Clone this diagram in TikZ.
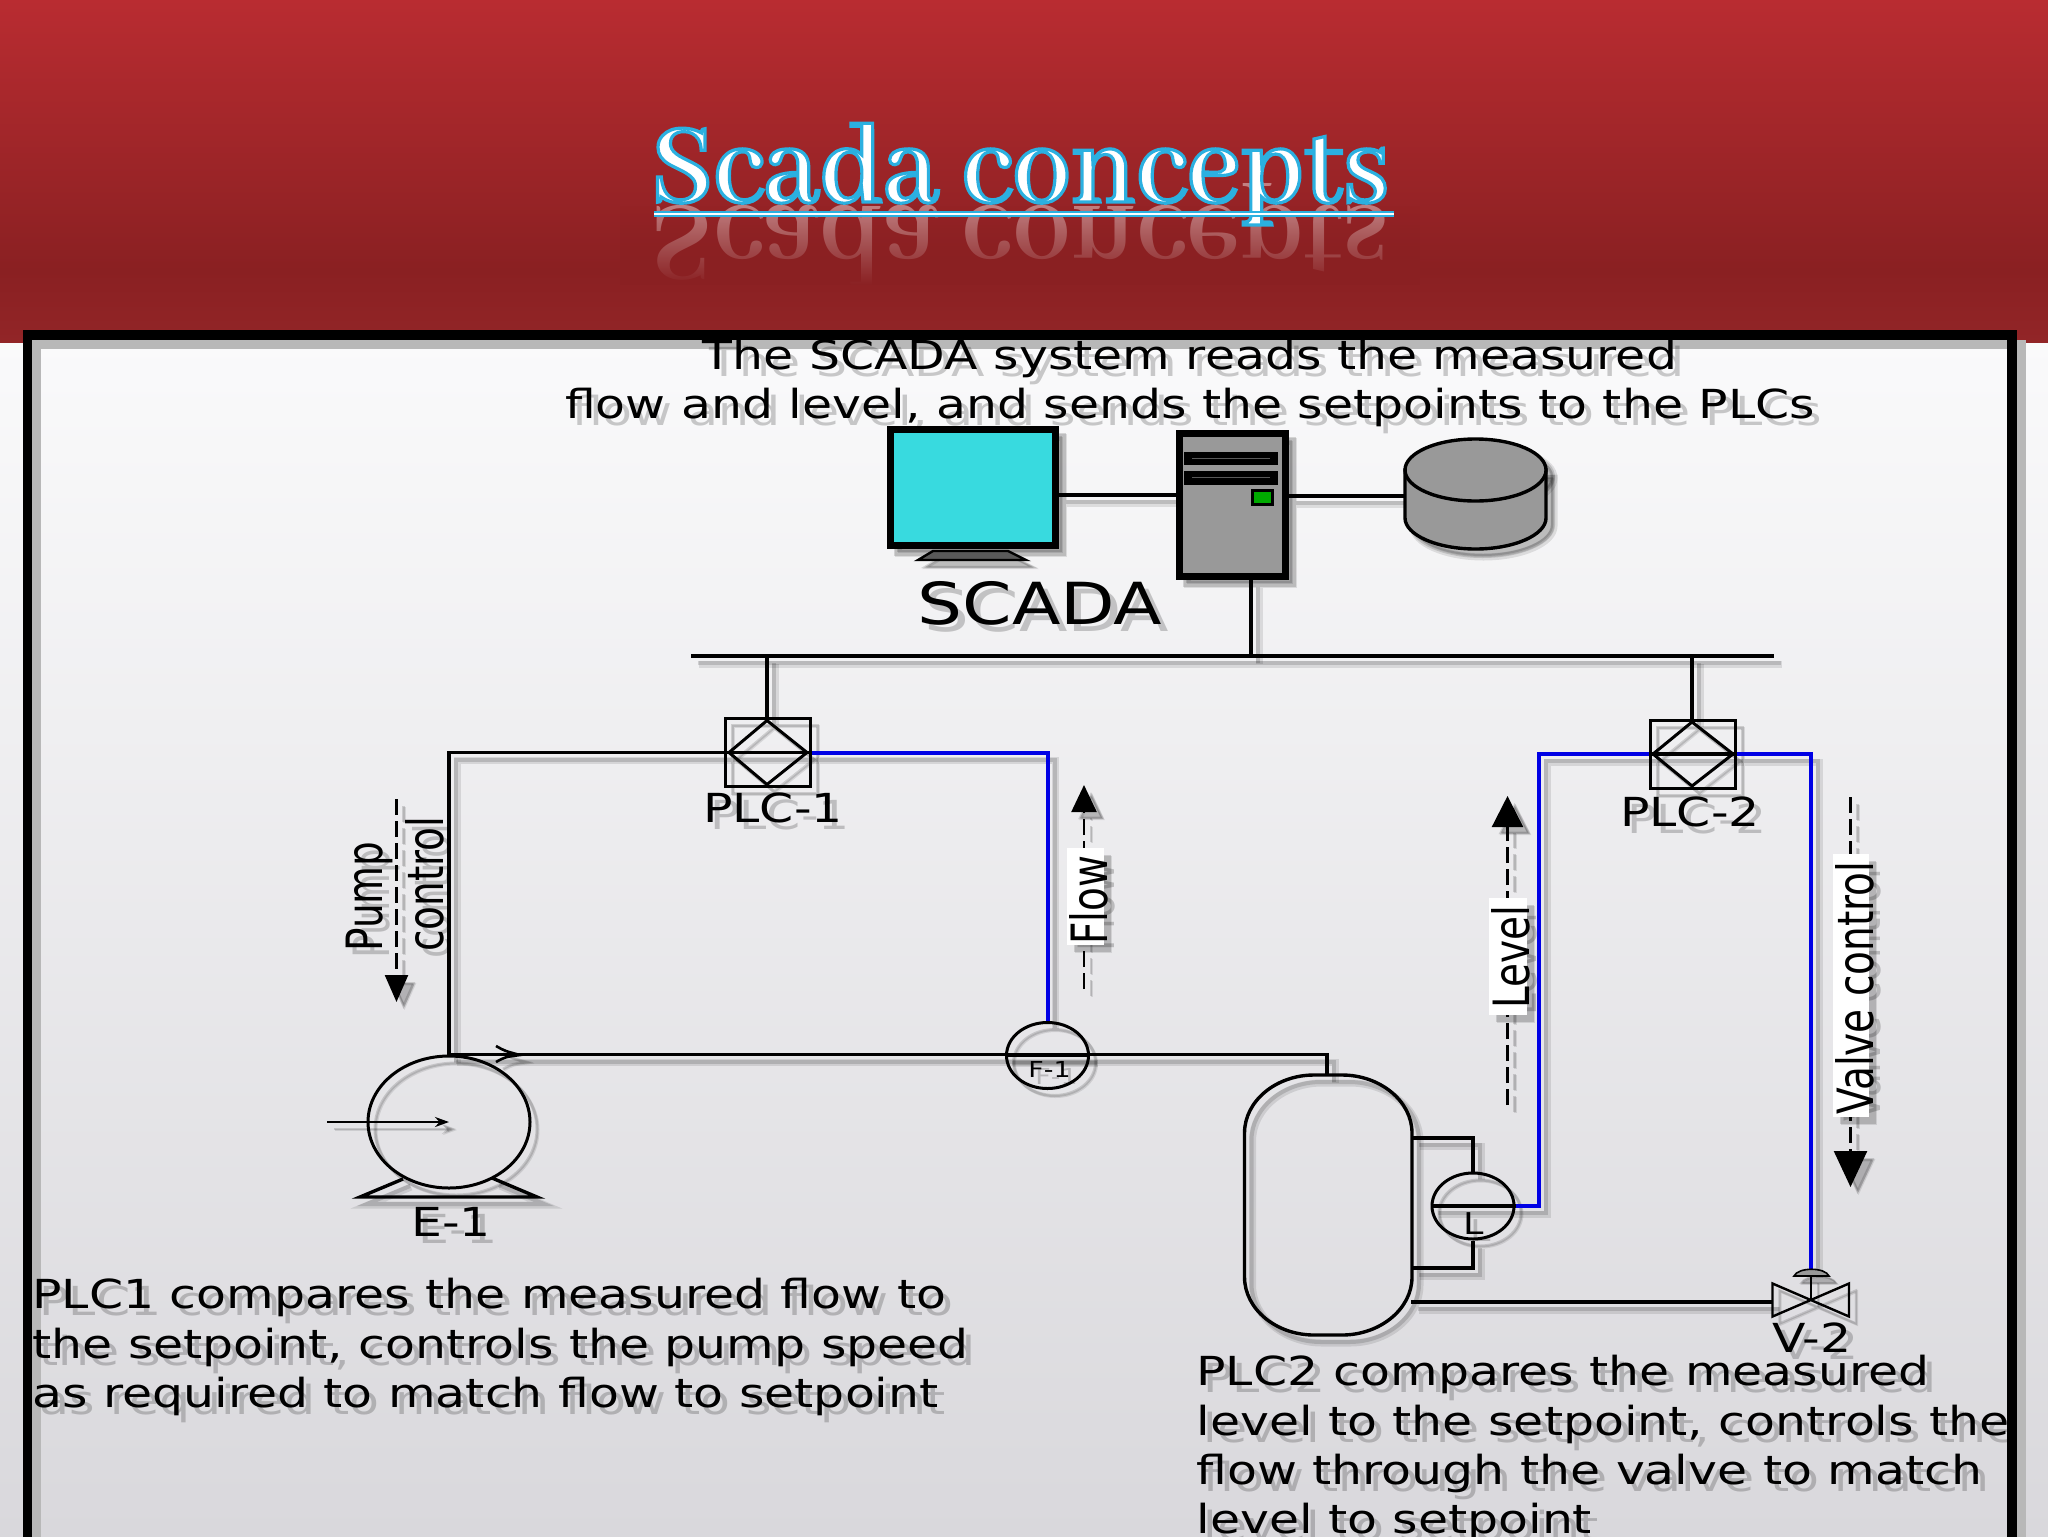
\documentclass[tikz,border=0pt]{standalone}
\usepackage{fontspec}
\usetikzlibrary{arrows.meta,fadings,shapes.geometric}
\setmainfont[FakeStretch=1.222]{DejaVu Sans}
\newfontfamily\rotfont[FakeStretch=0.78]{DejaVu Sans}
\newfontfamily\titlefont[FakeStretch=0.945]{Abhaya Libre}
\definecolor{hdTop}{HTML}{B92C31}
\definecolor{hdLow}{HTML}{8A2022}
\definecolor{hdEnd}{HTML}{922527}
\definecolor{bgTop}{HTML}{FAFAFB}
\definecolor{bgLow}{HTML}{D9D8DC}
\definecolor{ttl}{HTML}{2BB0E0}
\colorlet{cLine}{black}\colorlet{cBlue}{blue!90!black}\colorlet{cGrey}{black!40}\colorlet{cDark}{black!65}
\definecolor{cCyan}{HTML}{38DADF}\definecolor{cGreen}{HTML}{00AA00}\colorlet{cBox}{white}\colorlet{cText}{black}
\tikzset{
 x=0.5pt,y=-0.5pt,
 pipe/.style={draw=cLine,line width=1.7pt},
 signal/.style={draw=cBlue,line width=2pt},
 heavy/.style={draw=cLine,line width=3.5pt,inner sep=0pt},
 instr/.style={draw=cLine,line width=1.5pt,ellipse,inner sep=0pt,minimum width=41pt,minimum height=33pt},
 plcbox/.style={draw=cLine,line width=1.5pt,inner sep=0pt},
 dashline/.style={draw=cLine,line width=1.2pt,dash pattern=on 8pt off 3pt},
 lbl/.style={text=cText,font=\fontsize{20pt}{24pt}\selectfont,inner sep=0pt},
 body/.style={text=cText,font=\fontsize{20pt}{24.6pt}\selectfont,align=left,anchor=north west,inner sep=0pt},
 rot/.style={text=cText,rotate=90,font=\fontsize{25pt}{28pt}\rotfont,inner sep=0pt},
 titletext/.style={font=\fontsize{62pt}{70pt}\titlefont\bfseries,anchor=base,inner sep=0pt},
}
\newcommand{\plantshapes}{%
 \node[heavy,fill=cCyan,minimum width=82.5pt,minimum height=58pt] (mon) at (972.5,487) {};
 \node[heavy,fill=cGrey,minimum width=53pt,minimum height=71.5pt] (srv) at (1232,504.5) {};
 \node[plcbox,minimum width=42.5pt,minimum height=34pt] (plca) at (768,752.5) {};
 \node[plcbox,minimum width=42.5pt,minimum height=34pt] (plcb) at (1693,754) {};
 \node[instr] (fone) at (1047.5,1055.5) {};
 \node[instr] (lvl) at (1473,1206) {};
 \node[draw=cLine,line width=1.5pt,ellipse,inner sep=0pt,minimum width=81pt,minimum height=66pt] (pump) at (449,1122) {};
 \coordinate (busL) at (691,656); \coordinate (busR) at (1774,656);
 \coordinate (busS) at (1251,656); \coordinate (busA) at (767,656); \coordinate (busB) at (1692,656);
 \coordinate (dbL) at (1405,496);
 \coordinate (vc) at (1811,1300);
 \coordinate (tkT) at (1327,1075);
 % monitor stand
 \draw[fill=cDark,draw=cLine,line width=1.2pt] (933,551) -- (1008,551) -- (1026,560) -- (918,560) -- cycle;
 % server details
 \fill[cLine] (1183.5,452) rectangle (1278,465);
 \fill[cLine] (1183.5,471) rectangle (1278,485);
 \draw[cDark,line width=.8pt] (1192,458.5) -- (1270,458.5);
 \draw[cDark,line width=.8pt] (1192,477.5) -- (1270,477.5);
 \node[draw=cLine,fill=cGreen,line width=1.3pt,inner sep=0pt,minimum width=10pt,minimum height=6.8pt] (led) at (1262.5,497.5) {};
 % database
 \draw[pipe,fill=cGrey] (1405,470) -- (1405,518) .. controls (1405,535) and (1437,549) .. (1475.5,549) .. controls (1514,549) and (1546,535) .. (1546,518) -- (1546,470) -- cycle;
 \draw[pipe,fill=cGrey] (1475.5,470) ellipse [x radius=70.5,y radius=31];
 % connectors
 \draw[pipe] (mon.east |- 0,495) -- (srv.west |- 0,495);
 \draw[pipe] (srv.east |- 0,496) -- (dbL);
 \draw[pipe] (srv.south -| busS) -- (busS);
 \draw[pipe] (busL) -- (busR);
 \draw[pipe] (busA) -- (plca.north -| busA);
 \draw[pipe] (busB) -- (plcb.north -| busB);
 % PLC1
 \draw[pipe] (725.5,752.5) -- (811,752.5);
 \draw[plcbox] (729,752.5) -- (767,720.5) -- (807,752.5) -- (767,784.5) -- cycle;
 \draw[pipe] (plca.west) -- (plca.west -| pump.north) -- (pump.north);
 \draw[signal] (plca.east) -- (plca.east -| fone.north) -- (fone.north);
 % PLC2
 \draw[pipe] (1650,754) -- (1736,754);
 \draw[plcbox] (1653,754) -- (1692,722) -- (1733,754) -- (1692,786) -- cycle;
 \draw[signal] (plcb.west) -- (1539,754) -- (1539,1206) -- (lvl.east);
 \draw[signal] (plcb.east) -- (1811,754) -- (1811,1270);
 % main line
 \draw[pipe] (pump.north) -- (pump.north -| tkT) -- (tkT);
 \draw[draw=cLine,line width=1.3pt] (496,1046) .. controls (505,1051) .. (520,1055) .. controls (505,1057) .. (496,1062);
 \draw[pipe,line width=1.2pt,-{Stealth[length=7pt,width=5pt]}] (327,1122) -- (pump.center);
 \draw[pipe] (403,1179) -- (360,1197) -- (537,1197) -- (492,1178);
 \draw[pipe] (fone.west) -- (fone.east);
 % tank
 \draw[pipe] (1244.5,1133) .. controls (1244.5,1101) and (1276,1075) .. (1314,1075) -- (1342,1075) .. controls (1380,1075) and (1412,1101) .. (1412,1133) -- (1412,1277) .. controls (1412,1309) and (1380,1335) .. (1342,1335) -- (1314,1335) .. controls (1276,1335) and (1244.5,1309) .. (1244.5,1277) -- cycle;
 % level loop
 \draw[pipe] (lvl.west) -- (lvl.east);
 \draw[pipe] (1412,1138) -- (1473,1138) -- (lvl.north);
 \draw[pipe] (1412,1268) -- (1473,1268) -- (lvl.south);
 % valve
 \draw[pipe] (1411,1302) -- (1772,1302);
 \draw[pipe,line width=1.2pt] (1772.5,1283.5) -- (1849,1316.5) -- (1849,1283.5) -- (1772.5,1316.5) -- cycle;
 \draw[pipe,line width=1.2pt] (vc) -- (1811,1276);
 \draw[draw=cLine,line width=.8pt,fill=cGrey] (1794,1276) .. controls (1798,1267) and (1825,1267) .. (1829,1276) -- cycle;
 % instrument arrows
 \draw[dashline,-{Triangle[length=13.5pt,width=11.5pt]}] (396.5,799) -- (396.5,1002);
 \draw[dashline,-{Triangle[length=13.5pt,width=12.5pt]}] (1084,989) -- (1084,785);
 \draw[dashline,-{Triangle[length=15.5pt,width=15.5pt]}] (1507.5,1105) -- (1507.5,796);
 \draw[dashline,-{Triangle[length=18pt,width=16.5pt]}] (1850.5,797) -- (1850.5,1187);
 % label backings
 \fill[cBox] (1067,848) rectangle (1104,945);
 \fill[cBox] (1489,898) rectangle (1526.5,1015);
 \fill[cBox] (1832.7,854) rectangle (1869.4,1116.5);
}
\newcommand{\planttext}{%
 \node[rot] (flow) at (1088.5,900) {Flow};
 \node[rot] (level) at (1510.5,957) {Level};
 \node[rot] (valve) at (1855,988) {Valve control};
 \node[rot,anchor=south west] (pumpA) at (393,952) {Pump};
 \node[rot,anchor=south west] (pumpB) at (445,952) {control};
 \node[lbl,font=\fontsize{29pt}{32pt}\selectfont] (scada) at (1040,603) {SCADA};
 \node[lbl] (plcA) at (773,808) {PLC-1};
 \node[lbl] (plcB) at (1690,812) {PLC-2};
 \node[lbl] (eone) at (451,1222) {E-1};
 \node[lbl] (vtwo) at (1812,1338) {V-2};
 \node[lbl,font=\fontsize{11pt}{12pt}\selectfont] (fl) at (1049.5,1069) {F-1};
 \node[lbl,font=\fontsize{15pt}{16pt}\selectfont] (ll) at (1474,1224) {L};
 \node[body,align=center,anchor=north] (head) at (1190,339) {The SCADA system reads the measured\\flow and level, and sends the setpoints to the PLCs};
 \node[body] (pa) at (32,1278) {PLC1 compares the measured flow to\\the setpoint, controls the pump speed\\as required to match flow to setpoint};
 \node[body] (pb) at (1196,1355) {PLC2 compares the measured\\level to the setpoint, controls the\\flow through the valve to match\\level to setpoint};
}
\begin{document}
\begin{tikzpicture}
\useasboundingbox (0,0) rectangle (2048,1536);
\clip (0,0) rectangle (2048,1536);
% slide background
\shade[top color=bgTop,bottom color=bgLow] (0,339) rectangle (2048,1536);
% header
\shade[top color=hdTop,bottom color=hdLow] (0,0) rectangle (2048,270);
\shade[top color=hdLow,bottom color=hdEnd] (0,270) rectangle (2048,342);
% title reflection
\node[titletext,text=white,opacity=.42,yscale=-1] (titleR) at (1020,206) {Scada concepts};
\fill[hdLow,path fading=north] (620,205) rectangle (1420,285);
% title
\node[titletext,text=white] (title) at (1020,202) {\special{pdf:code q 2 Tr 1.6 w 0.17 0.69 0.88 RG}Scada concepts\special{pdf:code Q}};
\draw[ttl,line width=3pt] (654,214) -- (1394,214);
\draw[white,line width=.8pt] (654,214) -- (1394,214);
% frame
\draw[black!28,line width=4.5pt] (36,1560) -- (36,344) -- (2021,344) -- (2021,1560);
\draw[black,line width=4.75pt] (27.5,1560) -- (27.5,335) -- (2012,335) -- (2012,1560);
% shadows
\begin{scope}[shift={(8,8)},opacity=.1,pipe/.append style={line width=3.5pt},signal/.append style={line width=3.5pt}]
 \colorlet{cLine}{black}\colorlet{cBlue}{black}\colorlet{cGrey}{black}\colorlet{cDark}{black}\colorlet{cCyan}{black}\colorlet{cGreen}{black}\colorlet{cBox}{black}
 \plantshapes
\end{scope}
\begin{scope}[shift={(7,7)},opacity=.14,pipe/.append style={line width=2pt},signal/.append style={line width=2pt}]
 \colorlet{cLine}{black}\colorlet{cBlue}{black}\colorlet{cGrey}{black}\colorlet{cDark}{black}\colorlet{cCyan}{black}\colorlet{cGreen}{black}\colorlet{cBox}{black}
 \plantshapes
\end{scope}
\begin{scope}[shift={(7,7)},opacity=.2]
 \colorlet{cText}{black}
 \planttext
\end{scope}
\plantshapes
\planttext
\end{tikzpicture}
\end{document}
